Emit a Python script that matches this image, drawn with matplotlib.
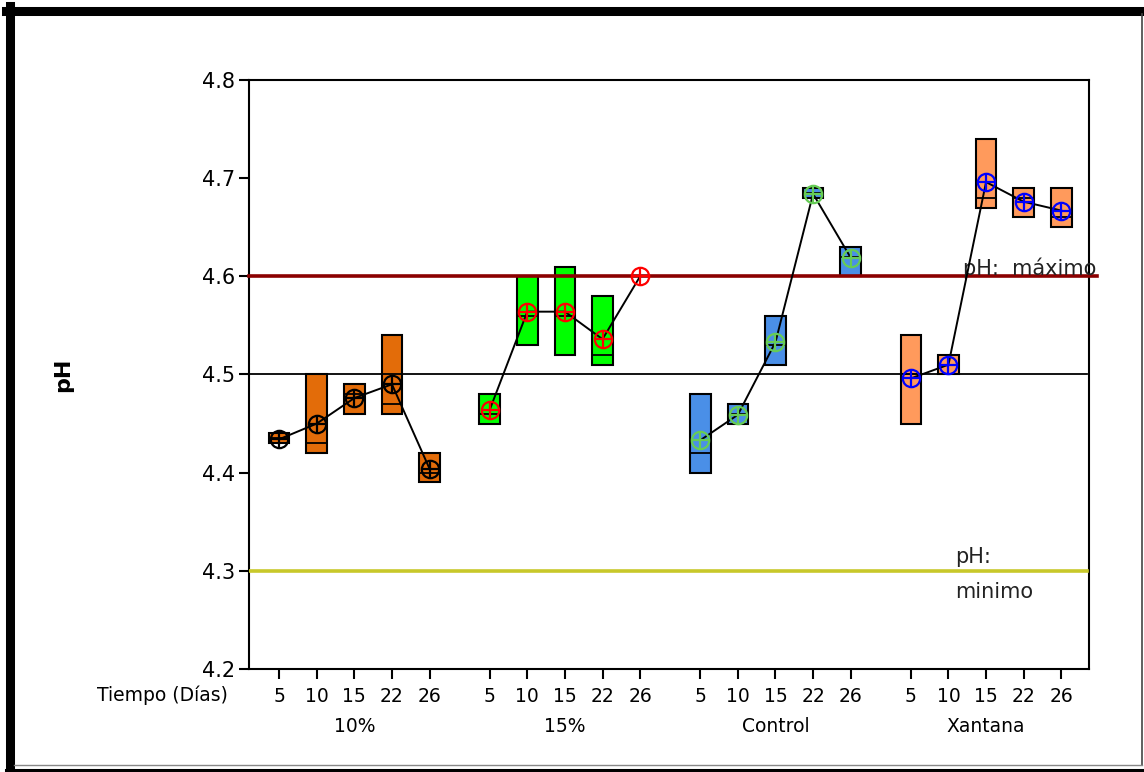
import numpy as np
import matplotlib.pyplot as plt
from matplotlib.lines import Line2D

# pH por tratamiento y tiempo de almacenamiento
grupos = ['10%', '15%', 'Control', 'Xantana']
dias = ['5', '10', '15', '22', '26']

ph_min = [[4.43, 4.42, 4.46, 4.46, 4.39],
          [4.45, 4.53, 4.52, 4.51, 4.60],
          [4.40, 4.45, 4.51, 4.68, 4.60],
          [4.45, 4.50, 4.67, 4.66, 4.65]]
ph_max = [[4.44, 4.50, 4.49, 4.54, 4.42],
          [4.48, 4.60, 4.61, 4.58, 4.60],
          [4.48, 4.47, 4.56, 4.69, 4.63],
          [4.54, 4.52, 4.74, 4.69, 4.69]]
ph_mediana = [[4.435, 4.43, 4.48, 4.47, 4.40],
              [4.46, 4.56, 4.56, 4.52, 4.60],
              [4.42, 4.46, 4.53, 4.685, 4.62],
              [4.50, 4.51, 4.68, 4.68, 4.66]]
ph_media = [[4.434, 4.45, 4.476, 4.49, 4.404],
            [4.464, 4.564, 4.564, 4.536, 4.60],
            [4.433, 4.459, 4.533, 4.684, 4.619],
            [4.496, 4.51, 4.696, 4.676, 4.667]]

ph_maximo = 4.6
ph_minimo = 4.3
ph_ref = 4.5

color_caja = ['#E36C09', '#00FF00', '#4A8FE7', '#FF9A5C']
color_media = ['black', 'red', '#66CC55', 'blue']

paso = 5.6
ancho = 0.55

fig = plt.figure(figsize=(11.44, 7.72), dpi=100)
ax = fig.add_axes([0.2177, 0.1334, 0.7343, 0.763])

xpos_all = []
for g in range(len(grupos)):
    x = np.arange(len(dias)) + g * paso
    xpos_all.extend(x)
    lo = np.array(ph_min[g])
    hi = np.array(ph_max[g])
    ax.bar(x, hi - lo, bottom=lo, width=ancho, color=color_caja[g],
           edgecolor='black', linewidth=1.5, zorder=2)
    ax.hlines(ph_mediana[g], x - ancho / 2, x + ancho / 2, color='black',
              linewidth=1.3, zorder=2.5)
    ax.plot(x, ph_media[g], color='black', linewidth=1.4, zorder=4)
    ax.plot(x, ph_media[g], linestyle='none', marker='o', markersize=12.5,
            markerfacecolor='none', markeredgecolor=color_media[g],
            markeredgewidth=1.6, zorder=5)
    ax.plot(x, ph_media[g], linestyle='none', marker='+', markersize=12.5,
            markeredgecolor=color_media[g], markeredgewidth=1.6, zorder=5)

# lineas de referencia
ax.axhline(ph_ref, xmin=0, xmax=0.9976, color='black', linewidth=1.3, zorder=3)
ax.axhline(ph_maximo, xmin=0, xmax=1.0095, color='#8B0000', linewidth=2.6,
           zorder=3, clip_on=False)
ax.axhline(ph_minimo, xmin=0, xmax=0.9976, color='#C8C82A', linewidth=2.6, zorder=3)

ax.set_xlim(-0.8, 21.54)
ax.set_ylim(4.2, 4.8)


def xfig(px):
    # pixel horizontal -> fraccion del eje
    return (px - 249) / 840


ytr = ax.get_yaxis_transform()
ax.text(xfig(963), 4.6015, 'pH:  máximo', fontsize=15, ha='left',
        va='baseline', color='#222222', transform=ytr)
ax.text(xfig(955), 4.308, 'pH:', fontsize=15, ha='left', va='baseline',
        color='#222222', transform=ytr)
ax.text(xfig(955), 4.272, 'minimo', fontsize=15, ha='left', va='baseline',
        color='#222222', transform=ytr)

ax.set_yticks(np.arange(4.2, 4.81, 0.1))
ax.set_yticklabels(['%.1f' % v for v in np.arange(4.2, 4.81, 0.1)], fontsize=15)
ax.set_xticks(xpos_all)
ax.set_xticklabels(dias * len(grupos), fontsize=13.5)
ax.tick_params(axis='both', direction='out', length=7, width=1.5, color='black')
ax.tick_params(axis='x', pad=6)
ax.tick_params(axis='y', pad=3)
for s in ax.spines.values():
    s.set_linewidth(1.5)

ax.set_ylabel('pH', fontsize=16, fontweight='bold', labelpad=0)
ax.yaxis.set_label_coords(-0.21, 0.5)

trans = ax.get_xaxis_transform()
for g, nombre in enumerate(grupos):
    ax.text(2 + g * paso, -0.098, nombre, fontsize=13.5, ha='center', va='center',
            transform=trans)
ax.text(162 / 1144, 1 - 695 / 772, 'Tiempo (Días)', fontsize=13.5, ha='center',
        va='center', transform=fig.transFigure)

# marco exterior
fig.add_artist(Line2D([10 / 1144, 10 / 1144], [1 - 6 / 772, 1 - 769 / 772],
                      color='black', linewidth=6.5, transform=fig.transFigure))
fig.add_artist(Line2D([6 / 1144, 1142 / 1144], [1 - 10.5 / 772, 1 - 10.5 / 772],
                      color='black', linewidth=6.5, transform=fig.transFigure))
fig.add_artist(Line2D([1142 / 1144, 1142 / 1144], [1 - 14 / 772, 1 - 765 / 772],
                      color='#444444', linewidth=1.2, transform=fig.transFigure))
fig.add_artist(Line2D([14 / 1144, 1142 / 1144], [1 - 764.5 / 772, 1 - 764.5 / 772],
                      color='#888888', linewidth=1.0, transform=fig.transFigure))
fig.add_artist(Line2D([6 / 1144, 1144 / 1144], [1 - 769.5 / 772, 1 - 769.5 / 772],
                      color='black', linewidth=2.2, transform=fig.transFigure))

fig.savefig('out.png', dpi=100)
